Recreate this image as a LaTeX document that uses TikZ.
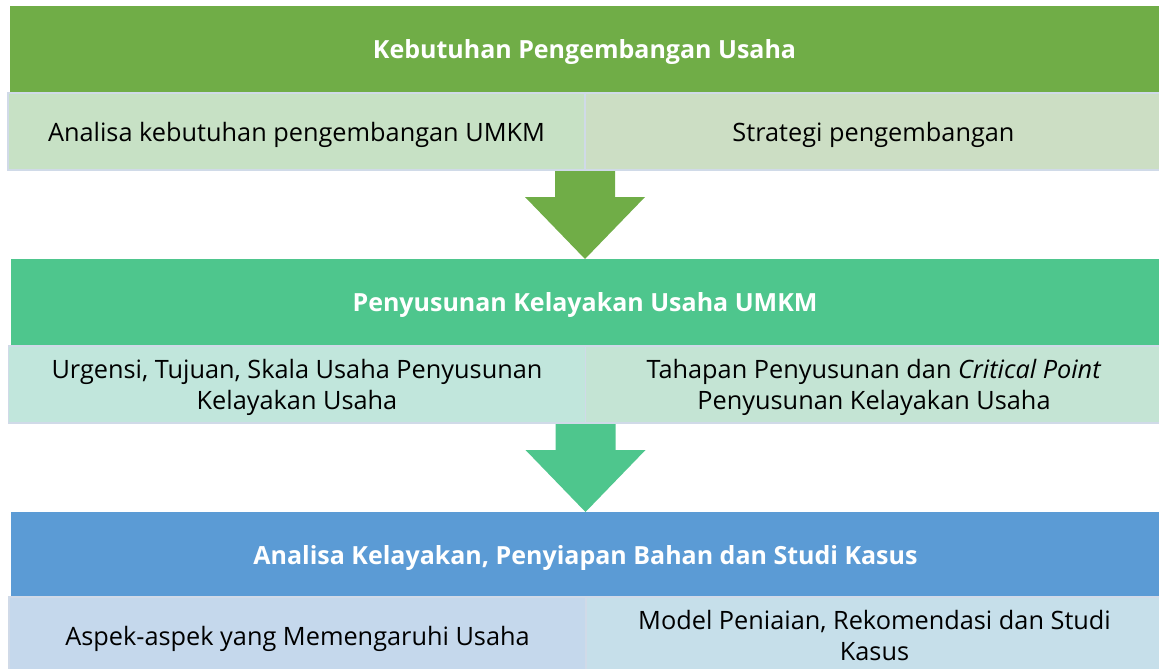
\documentclass[tikz,border=0pt]{standalone}
\usepackage{fontspec}
\setmainfont{Open Sans}
\usetikzlibrary{positioning,calc}

\definecolor{hgreen}{RGB}{112,173,71}
\definecolor{hteal}{RGB}{78,198,141}
\definecolor{hblue}{RGB}{91,155,213}
\definecolor{cellline}{RGB}{208,218,232}
\definecolor{cA1}{RGB}{199,225,197}
\definecolor{cA2}{RGB}{204,222,196}
\definecolor{cB1}{RGB}{193,230,220}
\definecolor{cB2}{RGB}{196,228,212}
\definecolor{cC1}{RGB}{197,216,236}
\definecolor{cC2}{RGB}{198,223,234}

% block arrow: shaft from #1 down to tip at #2
\newcommand{\blockdown}[3]{%
  \fill[#3] ($(#1)+(-30,-1)$) -- ($(#1)+(30,-1)$) -- ($(#2)+(30,62)$)
    -- ($(#2)+(60,62)$) -- (#2) -- ($(#2)+(-60,62)$) -- ($(#2)+(-30,62)$) -- cycle;}

\begin{document}
\begin{tikzpicture}[x=1pt, y=1pt,
  head/.style={minimum width=1149pt, minimum height=87pt, inner sep=0pt, outer sep=0pt,
    text depth=0pt, text=white, font=\bfseries\fontsize{25}{31}\selectfont},
  cell/.style={draw=cellline, line width=1.5pt, minimum width=577pt, minimum height=77pt,
    inner sep=0pt, outer sep=0pt, text depth=0pt, align=center, font=\fontsize{25.3}{31}\selectfont}]
\clip (0,0) rectangle (1159,-669);

% stage 1
\node[head, fill=hgreen, anchor=north west] (kebutuhan) at (10,-6) {Kebutuhan Pengembangan Usaha};
\node[cell, fill=cA1, anchor=north west] (analisa) at (8,-93) {Analisa kebutuhan pengembangan UMKM};
\node[cell, fill=cA2, right=0pt of analisa] (strategi) {Strategi pengembangan};

% stage 2
\node[head, fill=hteal, below=89pt of analisa.south east] (penyusunan) {Penyusunan Kelayakan Usaha UMKM};
\node[cell, fill=cB1, below=0pt of penyusunan.south west, anchor=north west, xshift=-2pt] (urgensi)
  {Urgensi, Tujuan, Skala Usaha Penyusunan\\Kelayakan Usaha};
\node[cell, fill=cB2, right=0pt of urgensi] (tahapan)
  {Tahapan Penyusunan dan \textit{Critical Point}\\Penyusunan Kelayakan Usaha};

% stage 3
\node[head, fill=hblue, minimum height=85pt, below=89pt of urgensi.south east] (kasus)
  {Analisa Kelayakan, Penyiapan Bahan dan Studi Kasus};
\node[cell, fill=cC1, below=0pt of kasus.south west, anchor=north west, xshift=-2pt] (aspek)
  {Aspek-aspek yang Memengaruhi Usaha};
\node[cell, fill=cC2, right=0pt of aspek] (model)
  {Model Peniaian, Rekomendasi dan Studi\\Kasus};

% arrows between stages
\blockdown{analisa.south east}{penyusunan.north}{hgreen}
\blockdown{urgensi.south east}{kasus.north}{hteal}
\end{tikzpicture}
\end{document}
